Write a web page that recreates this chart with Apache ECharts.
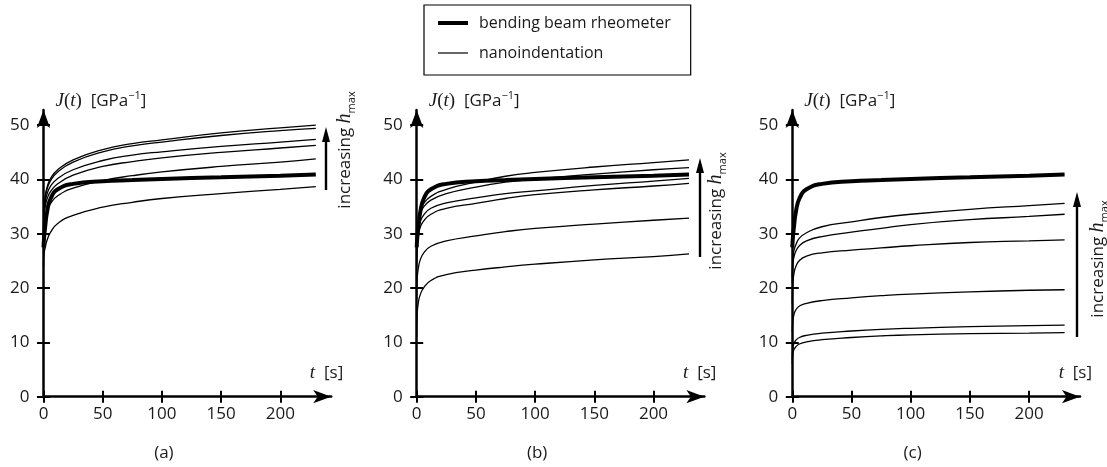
<!DOCTYPE html>
<html>
<head>
<meta charset="utf-8">
<script src="https://cdn.jsdelivr.net/npm/echarts@6/dist/echarts.min.js"></script>
<style>
html,body{margin:0;padding:0;background:#fff;}
#chart{width:1107px;height:467px;}
</style>
</head>
<body>
<div id="chart"></div>
<script>
// ---- data ----
const times = [0, 0.5, 1.5, 3, 6, 12, 25, 50, 75, 100, 150, 200, 230];
const bbr = [27.5, 29.3, 31.5, 34.0, 36.5, 38.2, 39.2, 39.7, 39.9, 40.1, 40.4, 40.7, 40.9];
const nanoA = [
  [31, 35, 37, 38.6, 40.2, 41.8, 43.6, 45.5, 46.6, 47.3, 48.6, 49.5, 50.0],
  [30.5, 34.6, 36.6, 38.2, 39.8, 41.4, 43.2, 45.1, 46.2, 46.9, 48.1, 49.0, 49.4],
  [30, 34, 35.8, 37.3, 38.8, 40.2, 41.8, 43.5, 44.5, 45.1, 46.1, 46.9, 47.4],
  [29.5, 33.3, 35, 36.4, 37.8, 39.2, 40.8, 42.4, 43.3, 44.0, 45.0, 45.8, 46.3],
  [28.5, 31.5, 33, 34.3, 35.6, 37.0, 38.4, 39.8, 40.7, 41.4, 42.4, 43.2, 43.8],
  [24, 26.3, 27.5, 28.8, 30.3, 31.9, 33.4, 34.9, 35.8, 36.5, 37.4, 38.2, 38.7]
];
const nanoB = [
  [26.5, 30.5, 32.6, 34.2, 35.6, 36.9, 38.2, 39.5, 40.6, 41.3, 42.3, 43.1, 43.6],
  [26, 30, 32, 33.6, 35.0, 36.2, 37.4, 38.6, 39.5, 40.1, 41.0, 41.8, 42.2],
  [25, 29, 30.8, 32.2, 33.5, 34.7, 35.7, 36.6, 37.4, 37.9, 38.9, 39.7, 40.2],
  [24, 28, 29.8, 31.2, 32.4, 33.6, 34.7, 35.6, 36.5, 37.2, 38.1, 38.8, 39.3],
  [18, 22, 23.8, 25.2, 26.5, 27.7, 28.7, 29.6, 30.4, 31.0, 31.8, 32.5, 32.9],
  [11, 15.5, 17.5, 18.8, 20.1, 21.4, 22.5, 23.3, 23.9, 24.4, 25.2, 25.8, 26.3]
];
const nanoC = [
  [22, 25.5, 27, 28, 29.2, 30.2, 31.3, 32.2, 33.0, 33.6, 34.5, 35.2, 35.6],
  [21, 24.5, 25.8, 26.8, 27.8, 28.7, 29.5, 30.3, 31.0, 31.7, 32.6, 33.2, 33.6],
  [17, 21, 22.8, 24.0, 25.1, 25.9, 26.5, 27.0, 27.4, 27.8, 28.4, 28.7, 28.9],
  [12, 14, 15.2, 16.0, 16.7, 17.2, 17.7, 18.2, 18.6, 18.9, 19.3, 19.6, 19.7],
  [7, 9, 9.9, 10.4, 10.9, 11.3, 11.7, 12.1, 12.4, 12.6, 12.9, 13.1, 13.2],
  [6, 8, 8.7, 9.2, 9.7, 10.1, 10.5, 10.9, 11.2, 11.4, 11.6, 11.7, 11.8]
];
const xTicks = [0, 50, 100, 150, 200];
const yTicks = [0, 10, 20, 30, 40, 50];
const panelLabels = ['(a)', '(b)', '(c)'];
const seriesNames = ['bending beam rheometer', 'nanoindentation'];

// ---- layout ----
const FONT = 'Open Sans';
const TXT = '#1a1a1a';
const gridLefts = [43.5, 416.7, 792.3];
const X_MAX = 243, Y_MAX = 52.8;
const GRID_W = 287.7, GRID_TOP = 110, GRID_H = 286.7;
const arrows = [
  {x: 326, y0: 190, y1: 127, tx: 345, ty: 150},
  {x: 700, y0: 257, y1: 158, tx: 716, ty: 211},
  {x: 1077, y0: 337, y1: 192, tx: 1098, ty: 259}
];

const grids = [], xAxes = [], yAxes = [], series = [], graphics = [];
const nanoSets = [nanoA, nanoB, nanoC];

function pairs(vals) { return times.map((t, i) => [t, vals[i]]); }

gridLefts.forEach((left, p) => {
  grids.push({left: left, top: GRID_TOP, width: GRID_W, height: GRID_H, containLabel: false});
  xAxes.push({
    gridIndex: p, type: 'value', min: 0, max: X_MAX,
    axisLine: {show: true, onZero: true, lineStyle: {color: '#000', width: 2.5}, symbol: ['none', 'arrow'], symbolSize: [10, 18]},
    axisTick: {show: true, customValues: xTicks, length: 6, lineStyle: {color: '#000', width: 2}},
    axisLabel: {customValues: xTicks, margin: 9, fontSize: 17, fontFamily: FONT, color: TXT},
    splitLine: {show: false},
    name: '{i|t}  [s]', nameLocation: 'end', nameGap: 12,
    nameTextStyle: {align: 'right', verticalAlign: 'bottom', padding: [0, 0, 14, 0], fontSize: 17, fontFamily: FONT, color: TXT,
      rich: {i: {fontFamily: 'Liberation Serif', fontStyle: 'italic', fontSize: 19, color: TXT}}}
  });
  xAxes.push({
    gridIndex: p, type: 'value', min: 0, max: X_MAX, position: 'bottom',
    axisLine: {show: false, onZero: false},
    axisTick: {show: true, inside: true, customValues: xTicks, length: 6, lineStyle: {color: '#000', width: 2}},
    axisLabel: {show: false}, splitLine: {show: false}
  });
  yAxes.push({
    gridIndex: p, type: 'value', min: 0, max: Y_MAX,
    axisLine: {show: true, onZero: true, lineStyle: {color: '#000', width: 2.5}, symbol: ['none', 'arrow'], symbolSize: [10, 18]},
    axisTick: {show: true, customValues: yTicks, length: 6.5, lineStyle: {color: '#000', width: 2}},
    axisLabel: {customValues: yTicks, margin: 14, fontSize: 17, fontFamily: FONT, color: TXT},
    splitLine: {show: false},
    name: '{i|J}{p|(}{i|t}{p|)}  [GPa{s|−1}]', nameLocation: 'end', nameGap: 9,
    nameTextStyle: {align: 'left', verticalAlign: 'middle', padding: [0, 0, 0, 12], fontSize: 17, fontFamily: FONT, color: TXT, lineHeight: 22,
      rich: {
        i: {fontFamily: 'Liberation Serif', fontStyle: 'italic', fontSize: 19, color: TXT, lineHeight: 22},
        p: {fontFamily: 'Liberation Serif', fontSize: 19, color: TXT, lineHeight: 22},
        s: {fontFamily: FONT, fontSize: 11, color: TXT, verticalAlign: 'top', lineHeight: 22}
      }}
  });
  yAxes.push({
    gridIndex: p, type: 'value', min: 0, max: Y_MAX, position: 'left',
    axisLine: {show: false, onZero: false},
    axisTick: {show: true, inside: true, customValues: yTicks, length: 6.5, lineStyle: {color: '#000', width: 2}},
    axisLabel: {show: false}, splitLine: {show: false}
  });
  nanoSets[p].forEach(vals => {
    series.push({
      name: seriesNames[1], type: 'line', xAxisIndex: 2 * p, yAxisIndex: 2 * p,
      data: pairs(vals), symbol: 'none', showSymbol: false, smooth: 0.5,
      lineStyle: {color: '#000', width: 1.3}, itemStyle: {color: '#000'}, z: 3
    });
  });
  series.push({
    name: seriesNames[0], type: 'line', xAxisIndex: 2 * p, yAxisIndex: 2 * p,
    data: pairs(bbr), symbol: 'none', showSymbol: false, smooth: 0.5,
    lineStyle: {color: '#000', width: 4}, itemStyle: {color: '#000'}, z: 4
  });
  const a = arrows[p];
  graphics.push({type: 'line', shape: {x1: a.x, y1: a.y0, x2: a.x, y2: a.y1 + 10}, style: {stroke: '#000', lineWidth: 2.4}, silent: true});
  graphics.push({type: 'polygon', shape: {points: [[a.x, a.y1], [a.x - 4, a.y1 + 15], [a.x + 4, a.y1 + 15]]}, style: {fill: '#000'}, silent: true});
  graphics.push({type: 'text', x: a.tx, y: a.ty, rotation: Math.PI / 2, silent: true,
    style: {text: '{n|increasing }{h|h}{m|max}', align: 'center', verticalAlign: 'middle', fill: TXT,
      rich: {
        n: {fontFamily: FONT, fontSize: 17, fill: TXT, lineHeight: 24},
        h: {fontFamily: 'Liberation Serif', fontStyle: 'italic', fontSize: 20, fill: TXT, lineHeight: 24},
        m: {fontFamily: FONT, fontSize: 11, fill: TXT, verticalAlign: 'bottom', lineHeight: 24}
      }}});
  graphics.push({type: 'text', x: left + 100 * GRID_W / X_MAX + 2, y: 453, silent: true,
    style: {text: panelLabels[p], align: 'center', verticalAlign: 'middle', fontFamily: FONT, fontSize: 17, fill: TXT}});
});

const chart = echarts.init(document.getElementById('chart'), null, {renderer: 'canvas'});
chart.setOption({
  animation: false,
  backgroundColor: '#fff',
  grid: grids, xAxis: xAxes, yAxis: yAxes, series: series,
  legend: {
    data: [
      {name: seriesNames[0], icon: 'path://M0,0H30V4H0Z'},
      {name: seriesNames[1], icon: 'path://M0,0H30V1.2H0Z'}
    ],
    orient: 'vertical', left: 424, top: 5, symbolKeepAspect: true,
    padding: [9, 20, 13, 14], itemGap: 12, itemWidth: 30, itemHeight: 18,
    borderColor: '#000', borderWidth: 1.2, backgroundColor: '#fff',
    textStyle: {fontFamily: FONT, fontSize: 16, color: TXT, padding: [0, 0, 0, 6], lineHeight: 18},
    selectedMode: false
  },
  graphic: graphics
});
</script>
</body>
</html>
